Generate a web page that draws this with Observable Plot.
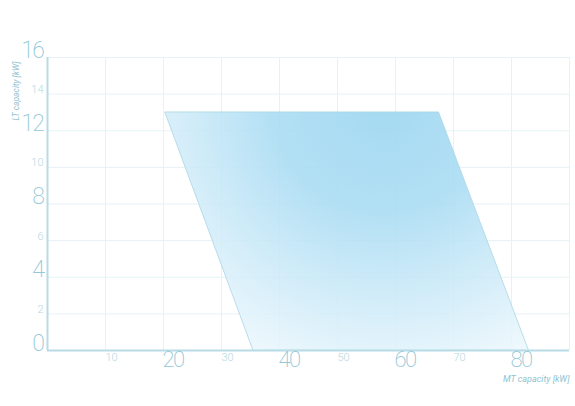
<!DOCTYPE html>
<html>
<head>
<meta charset="utf-8">
<script src="https://cdn.jsdelivr.net/npm/d3@7"></script>
<script src="https://cdn.jsdelivr.net/npm/@observablehq/plot@0.6"></script>
<style>
  html, body { margin: 0; padding: 0; background: #fff; }
  svg { font-family: Roboto, "DejaVu Sans", sans-serif; }
  .big text { letter-spacing: -1.5px; }
</style>
</head>
<body>
<div id="chart"></div>
<script>
// Data: operating envelope (MT vs LT capacity)
const envelopeY  = [0, 13];
const envelopeX1 = [35.5, 20.3];
const envelopeX2 = [83, 67.5];

const xGridTicks  = [10, 20, 30, 40, 50, 60, 70, 80, 90];
const yGridTicks  = [2, 4, 6, 8, 10, 12, 14, 16];
const xBigTicks   = [20, 40, 60, 80];
const xSmallTicks = [10, 30, 50, 70];
const yBigTicks   = [0, 4, 8, 12, 16];
const ySmallTicks = [2, 6, 10, 14];
const xTitle = "MT capacity [kW]";
const yTitle = "LT capacity [kW]";

const envelope = envelopeY.map((y, i) => ({y, x1: envelopeX1[i], x2: envelopeX2[i]}));

const gridColor = "#e6f2f6";
const axisColor = "#b8dce6";
const bigLabel = "#93c8d6";
const smallLabel = "#b3d9e3";

function gradientDefs(index, scales) {
  const ns = "http://www.w3.org/2000/svg";
  const defs = document.createElementNS(ns, "defs");
  const g = document.createElementNS(ns, "radialGradient");
  g.setAttribute("id", "envGrad");
  g.setAttribute("gradientUnits", "userSpaceOnUse");
  g.setAttribute("cx", scales.x(58));
  g.setAttribute("cy", scales.y(13.5));
  g.setAttribute("r", scales.x(54) - scales.x(0));
  const stops = [
    [0, "#a0d8f1", 0.95],
    [0.35, "#aadcf3", 0.9],
    [0.7, "#d3edf9", 0.85],
    [1, "#f8fcfe", 0.85]
  ];
  for (const [o, c, a] of stops) {
    const s = document.createElementNS(ns, "stop");
    s.setAttribute("offset", o);
    s.setAttribute("stop-color", c);
    s.setAttribute("stop-opacity", a);
    g.appendChild(s);
  }
  defs.appendChild(g);
  return defs;
}

const chart = Plot.plot({
  width: 575,
  height: 406,
  marginLeft: 47,
  marginRight: 6,
  marginTop: 57,
  marginBottom: 56,
  x: {domain: [0, 90]},
  y: {domain: [0, 16]},
  style: {fontFamily: "Roboto, 'DejaVu Sans', sans-serif", background: "#fff"},
  marks: [
    gradientDefs,
    Plot.gridX(xGridTicks, {stroke: gridColor, strokeOpacity: 1, strokeWidth: 1}),
    Plot.gridY(yGridTicks, {stroke: gridColor, strokeOpacity: 1, strokeWidth: 1}),
    Plot.areaX(envelope, {y: "y", x1: "x1", x2: "x2", fill: "url(#envGrad)", stroke: "#a8d5e3", strokeWidth: 0.8}),
    Plot.ruleX([0], {stroke: axisColor, strokeWidth: 2}),
    Plot.ruleY([0], {stroke: axisColor, strokeWidth: 2}),
    Plot.axisX(xBigTicks, {anchor: "bottom", tickSize: 0, tickPadding: 1, textAnchor: "start", fontSize: 22, fontWeight: 200, fill: bigLabel, label: null, dx: -1, className: "big"}),
    Plot.axisX(xSmallTicks, {anchor: "bottom", tickSize: 0, tickPadding: 3, textAnchor: "start", fontSize: 11, fontWeight: 300, fill: smallLabel, label: null, dx: 0}),
    Plot.axisY(yBigTicks, {anchor: "left", tickSize: 0, tickPadding: 4, textAnchor: "end", lineAnchor: "bottom", fontSize: 23, fontWeight: 200, fill: bigLabel, label: null, dy: 0, className: "big"}),
    Plot.axisY(ySmallTicks, {anchor: "left", tickSize: 0, tickPadding: 4, textAnchor: "end", lineAnchor: "bottom", fontSize: 11, fontWeight: 300, fill: smallLabel, label: null, dy: -1}),
    Plot.text([xTitle], {frameAnchor: "bottom-right", textAnchor: "end", dy: 31, fontSize: 9, fontStyle: "italic", fill: "#8fc3d2"}),
    Plot.text([yTitle], {frameAnchor: "top-left", textAnchor: "end", rotate: -90, dx: -35, dy: 4, fontSize: 8.5, fontStyle: "italic", fill: "#8fc3d2"})
  ]
});
document.getElementById("chart").appendChild(chart);
</script>
</body>
</html>
